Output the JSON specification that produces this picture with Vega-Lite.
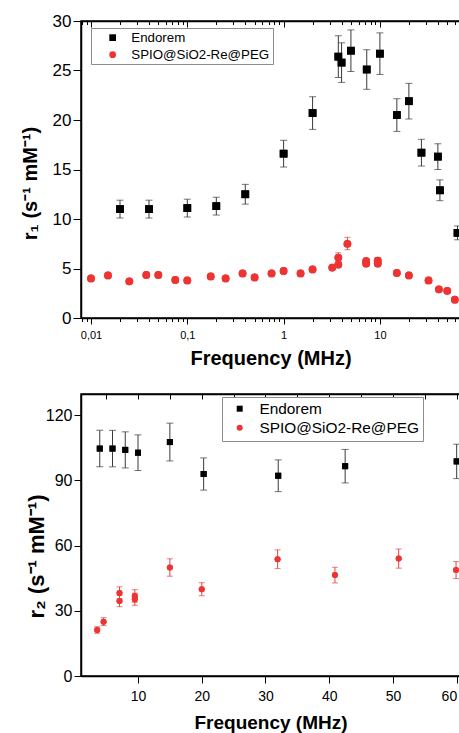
{
  "$schema": "https://vega.github.io/schema/vega-lite/v6.json",
  "padding": {"left": 19, "top": 11, "right": 0, "bottom": 0},
  "bounds": "flush",
  "spacing": 76,
  "resolve": {"scale": {"color": "independent", "shape": "independent"}, "legend": {"color": "independent", "shape": "independent"}},
  "config": {
    "font": "Liberation Sans",
    "view": {"stroke": "#000000", "strokeWidth": 1.5},
    "axis": {"domainColor": "#000000", "domainWidth": 1.5, "tickColor": "#000000", "tickWidth": 1, "labelColor": "#000000", "titleColor": "#000000", "grid": false, "labelFont": "Liberation Sans", "titleFont": "Liberation Sans", "titleFontWeight": "bold", "labelOverlap": false},
    "legend": {"labelFont": "Liberation Sans", "labelColor": "#000000", "strokeColor": "#8c8c8c", "fillColor": "#ffffff", "symbolStrokeWidth": 0, "direction": "vertical"}
  },
  "datasets": {
    "r1": [
      {"series": "Endorem", "f": 0.02, "r": 11.0, "lo": 10.1, "hi": 11.9},
      {"series": "Endorem", "f": 0.04, "r": 11.0, "lo": 10.1, "hi": 11.9},
      {"series": "Endorem", "f": 0.1, "r": 11.1, "lo": 10.2, "hi": 12.0},
      {"series": "Endorem", "f": 0.2, "r": 11.3, "lo": 10.4, "hi": 12.2},
      {"series": "Endorem", "f": 0.4, "r": 12.5, "lo": 11.5, "hi": 13.5},
      {"series": "Endorem", "f": 1, "r": 16.6, "lo": 15.25, "hi": 17.95},
      {"series": "Endorem", "f": 2, "r": 20.7, "lo": 19.05, "hi": 22.35},
      {"series": "Endorem", "f": 3.7, "r": 26.4, "lo": 24.3, "hi": 28.5},
      {"series": "Endorem", "f": 4.0, "r": 25.8, "lo": 23.8, "hi": 27.8},
      {"series": "Endorem", "f": 5.0, "r": 27.0, "lo": 24.9, "hi": 29.1},
      {"series": "Endorem", "f": 7.3, "r": 25.1, "lo": 23.1, "hi": 27.1},
      {"series": "Endorem", "f": 10, "r": 26.7, "lo": 24.6, "hi": 28.8},
      {"series": "Endorem", "f": 15, "r": 20.5, "lo": 18.85, "hi": 22.15},
      {"series": "Endorem", "f": 20, "r": 21.9, "lo": 20.1, "hi": 23.7},
      {"series": "Endorem", "f": 27, "r": 16.7, "lo": 15.35, "hi": 18.05},
      {"series": "Endorem", "f": 40, "r": 16.3, "lo": 15.0, "hi": 17.6},
      {"series": "Endorem", "f": 42, "r": 12.9, "lo": 11.85, "hi": 13.95},
      {"series": "Endorem", "f": 64, "r": 8.6, "lo": 7.9, "hi": 9.3},
      {"series": "SPIO@SiO2-Re@PEG", "f": 0.01, "r": 4.0, "lo": 3.8, "hi": 4.2},
      {"series": "SPIO@SiO2-Re@PEG", "f": 0.015, "r": 4.3, "lo": 4.1, "hi": 4.5},
      {"series": "SPIO@SiO2-Re@PEG", "f": 0.025, "r": 3.7, "lo": 3.5, "hi": 3.9},
      {"series": "SPIO@SiO2-Re@PEG", "f": 0.0375, "r": 4.35, "lo": 4.15, "hi": 4.55},
      {"series": "SPIO@SiO2-Re@PEG", "f": 0.05, "r": 4.35, "lo": 4.15, "hi": 4.55},
      {"series": "SPIO@SiO2-Re@PEG", "f": 0.075, "r": 3.85, "lo": 3.65, "hi": 4.05},
      {"series": "SPIO@SiO2-Re@PEG", "f": 0.1, "r": 3.8, "lo": 3.6, "hi": 4.0},
      {"series": "SPIO@SiO2-Re@PEG", "f": 0.175, "r": 4.2, "lo": 4.0, "hi": 4.4},
      {"series": "SPIO@SiO2-Re@PEG", "f": 0.25, "r": 4.0, "lo": 3.8, "hi": 4.2},
      {"series": "SPIO@SiO2-Re@PEG", "f": 0.375, "r": 4.5, "lo": 4.3, "hi": 4.7},
      {"series": "SPIO@SiO2-Re@PEG", "f": 0.5, "r": 4.1, "lo": 3.9, "hi": 4.3},
      {"series": "SPIO@SiO2-Re@PEG", "f": 0.75, "r": 4.5, "lo": 4.3, "hi": 4.7},
      {"series": "SPIO@SiO2-Re@PEG", "f": 1, "r": 4.75, "lo": 4.55, "hi": 4.95},
      {"series": "SPIO@SiO2-Re@PEG", "f": 1.5, "r": 4.5, "lo": 4.3, "hi": 4.7},
      {"series": "SPIO@SiO2-Re@PEG", "f": 2, "r": 4.9, "lo": 4.7, "hi": 5.1},
      {"series": "SPIO@SiO2-Re@PEG", "f": 3.2, "r": 5.1, "lo": 4.9, "hi": 5.3},
      {"series": "SPIO@SiO2-Re@PEG", "f": 3.7, "r": 5.4, "lo": 5.15, "hi": 5.65},
      {"series": "SPIO@SiO2-Re@PEG", "f": 3.7, "r": 6.1, "lo": 5.6, "hi": 6.6},
      {"series": "SPIO@SiO2-Re@PEG", "f": 4.6, "r": 7.5, "lo": 6.9, "hi": 8.15},
      {"series": "SPIO@SiO2-Re@PEG", "f": 7.2, "r": 5.75, "lo": 5.45, "hi": 6.05},
      {"series": "SPIO@SiO2-Re@PEG", "f": 7.2, "r": 5.5, "lo": 5.2, "hi": 5.8},
      {"series": "SPIO@SiO2-Re@PEG", "f": 9.5, "r": 5.8, "lo": 5.5, "hi": 6.1},
      {"series": "SPIO@SiO2-Re@PEG", "f": 9.5, "r": 5.5, "lo": 5.2, "hi": 5.8},
      {"series": "SPIO@SiO2-Re@PEG", "f": 15, "r": 4.55, "lo": 4.35, "hi": 4.75},
      {"series": "SPIO@SiO2-Re@PEG", "f": 20, "r": 4.3, "lo": 4.1, "hi": 4.5},
      {"series": "SPIO@SiO2-Re@PEG", "f": 32, "r": 3.8, "lo": 3.6, "hi": 4.0},
      {"series": "SPIO@SiO2-Re@PEG", "f": 41, "r": 2.9, "lo": 2.7, "hi": 3.1},
      {"series": "SPIO@SiO2-Re@PEG", "f": 50, "r": 2.75, "lo": 2.55, "hi": 2.95},
      {"series": "SPIO@SiO2-Re@PEG", "f": 60, "r": 1.85, "lo": 1.65, "hi": 2.05}
    ],
    "r2": [
      {"series": "Endorem", "f": 4, "r": 104.6, "lo": 96.2, "hi": 113.0},
      {"series": "Endorem", "f": 6, "r": 104.6, "lo": 96.2, "hi": 113.0},
      {"series": "Endorem", "f": 8, "r": 104.0, "lo": 95.7, "hi": 112.3},
      {"series": "Endorem", "f": 10, "r": 102.7, "lo": 94.5, "hi": 110.9},
      {"series": "Endorem", "f": 15, "r": 107.6, "lo": 98.9, "hi": 116.3},
      {"series": "Endorem", "f": 20.3, "r": 92.9, "lo": 85.5, "hi": 100.3},
      {"series": "Endorem", "f": 32, "r": 92.1, "lo": 84.8, "hi": 99.4},
      {"series": "Endorem", "f": 42.5, "r": 96.5, "lo": 88.8, "hi": 104.2},
      {"series": "Endorem", "f": 60, "r": 98.7, "lo": 90.8, "hi": 106.6},
      {"series": "SPIO@SiO2-Re@PEG", "f": 3.6, "r": 21.2, "lo": 19.7, "hi": 22.7},
      {"series": "SPIO@SiO2-Re@PEG", "f": 4.6, "r": 25.0, "lo": 23.2, "hi": 26.8},
      {"series": "SPIO@SiO2-Re@PEG", "f": 7.1, "r": 38.2, "lo": 35.4, "hi": 41.0},
      {"series": "SPIO@SiO2-Re@PEG", "f": 7.1, "r": 34.5, "lo": 31.9, "hi": 37.1},
      {"series": "SPIO@SiO2-Re@PEG", "f": 9.5, "r": 36.8, "lo": 33.9, "hi": 39.7},
      {"series": "SPIO@SiO2-Re@PEG", "f": 9.5, "r": 35.3, "lo": 32.5, "hi": 38.1},
      {"series": "SPIO@SiO2-Re@PEG", "f": 15, "r": 49.9, "lo": 45.9, "hi": 53.9},
      {"series": "SPIO@SiO2-Re@PEG", "f": 20, "r": 39.9, "lo": 36.9, "hi": 42.9},
      {"series": "SPIO@SiO2-Re@PEG", "f": 31.9, "r": 53.7, "lo": 49.4, "hi": 58.0},
      {"series": "SPIO@SiO2-Re@PEG", "f": 40.9, "r": 46.4, "lo": 42.8, "hi": 50.0},
      {"series": "SPIO@SiO2-Re@PEG", "f": 50.9, "r": 54.0, "lo": 49.6, "hi": 58.4},
      {"series": "SPIO@SiO2-Re@PEG", "f": 59.9, "r": 48.7, "lo": 44.8, "hi": 52.6}
    ]
  },
  "vconcat": [
    {
      "width": 379,
      "height": 297,
      "data": {"name": "r1"},
      "resolve": {"axis": {"x": "independent"}},
      "layer": [
        {
          "mark": {"type": "point", "filled": true, "opacity": 1, "size": 60},
          "encoding": {
            "x": {
              "field": "f", "type": "quantitative",
              "scale": {"type": "log", "domain": [0.00787, 67.9], "nice": false},
              "axis": {
                "orient": "bottom",
                "values": [0.008, 0.009, 0.01, 0.02, 0.03, 0.04, 0.05, 0.06, 0.07, 0.08, 0.09, 0.1, 0.2, 0.3, 0.4, 0.5, 0.6, 0.7, 0.8, 0.9, 1, 2, 3, 4, 5, 6, 7, 8, 9, 10, 20, 30, 40, 50, 60],
                "labelExpr": "datum.value === 0.01 ? '0,01' : datum.value === 0.1 ? '0,1' : datum.value === 1 ? '1' : datum.value === 10 ? '10' : ''",
                "tickSize": {"condition": {"test": "datum.value === 0.01 || datum.value === 0.1 || datum.value === 1 || datum.value === 10", "value": 6}, "value": 3.5},
                "labelOverlap": false,
                "labelFontSize": 11,
                "labelPadding": 5,
                "title": "Frequency (MHz)",
                "titleFontSize": 20,
                "titleBaseline": "middle",
                "titleY": 40
              }
            },
            "y": {
              "field": "r", "type": "quantitative",
              "title": "r₁ (s⁻¹ mM⁻¹)",
              "scale": {"domain": [0, 30], "nice": false},
              "axis": {
                "orient": "left",
                "values": [0, 2.5, 5, 7.5, 10, 12.5, 15, 17.5, 20, 22.5, 25, 27.5, 30],
                "labelExpr": "datum.value % 5 === 0 ? datum.label : ''",
                "tickSize": {"condition": {"test": "datum.value % 5 === 0", "value": 8}, "value": 5},
                "labelOverlap": false,
                "labelFontSize": 17,
                "labelPadding": 2,
                "title": "r₁ (s⁻¹ mM⁻¹)",
                "titleFontSize": 20,
                "titleBaseline": "middle",
                "titleX": -51,
                "titleY": 162
              }
            },
            "color": {
              "field": "series", "type": "nominal",
              "scale": {"domain": ["Endorem", "SPIO@SiO2-Re@PEG"], "range": ["#000000", "#ee3333"]},
              "legend": {"title": null, "orient": "none", "legendX": 10, "legendY": 7, "padding": 3, "symbolOffset": 12, "labelOffset": 12, "rowPadding": 3, "symbolSize": 45, "labelFontSize": 13.3}
            },
            "shape": {
              "field": "series", "type": "nominal",
              "scale": {"domain": ["Endorem", "SPIO@SiO2-Re@PEG"], "range": ["square", "circle"]},
              "legend": {"title": null, "orient": "none", "legendX": 10, "legendY": 7, "padding": 3, "symbolOffset": 12, "labelOffset": 12, "rowPadding": 3, "symbolSize": 45, "labelFontSize": 13.3}
            }
          }
        },
        {
          "transform": [{"filter": "datum.series === 'Endorem'"}],
          "mark": {"type": "errorbar", "ticks": true, "size": 7, "thickness": 1, "color": "#3a3a3a"},
          "encoding": {
            "x": {"field": "f", "type": "quantitative", "scale": {"type": "log", "domain": [0.00787, 67.9], "nice": false}, "axis": null},
            "y": {"field": "lo", "type": "quantitative", "title": "r₁ (s⁻¹ mM⁻¹)", "scale": {"domain": [0, 30], "nice": false}},
            "y2": {"field": "hi"}
          }
        },
        {
          "transform": [{"filter": "datum.series !== 'Endorem'"}],
          "mark": {"type": "errorbar", "ticks": true, "size": 6, "thickness": 1, "color": "#e04545"},
          "encoding": {
            "x": {"field": "f", "type": "quantitative", "scale": {"type": "log", "domain": [0.00787, 67.9], "nice": false}, "axis": null},
            "y": {"field": "lo", "type": "quantitative", "title": "r₁ (s⁻¹ mM⁻¹)", "scale": {"domain": [0, 30], "nice": false}},
            "y2": {"field": "hi"}
          }
        },
        {
          "mark": {"type": "point", "filled": true, "opacity": 1, "size": 60},
          "encoding": {
            "x": {"field": "f", "type": "quantitative", "scale": {"type": "log", "domain": [0.00787, 67.9], "nice": false}, "axis": null},
            "y": {"field": "r", "type": "quantitative", "title": "r₁ (s⁻¹ mM⁻¹)", "scale": {"domain": [0, 30], "nice": false}},
            "color": {"field": "series", "type": "nominal", "scale": {"domain": ["Endorem", "SPIO@SiO2-Re@PEG"], "range": ["#000000", "#ee3333"]}},
            "shape": {"field": "series", "type": "nominal", "scale": {"domain": ["Endorem", "SPIO@SiO2-Re@PEG"], "range": ["square", "circle"]}}
          }
        },
        {
          "mark": {"type": "point", "opacity": 0},
          "encoding": {
            "x": {
              "field": "f", "type": "quantitative",
              "scale": {"type": "log", "domain": [0.00787, 67.9], "nice": false},
              "axis": {
                "orient": "top",
                "values": [0.008, 0.009, 0.01, 0.02, 0.03, 0.04, 0.05, 0.06, 0.07, 0.08, 0.09, 0.1, 0.2, 0.3, 0.4, 0.5, 0.6, 0.7, 0.8, 0.9, 1, 2, 3, 4, 5, 6, 7, 8, 9, 10, 20, 30, 40, 50, 60],
                "labels": false,
                "title": null,
                "tickSize": {"condition": {"test": "datum.value === 0.01 || datum.value === 0.1 || datum.value === 1 || datum.value === 10", "value": -6}, "value": -3.5}
              }
            },
            "y": {"field": "r", "type": "quantitative", "title": "r₁ (s⁻¹ mM⁻¹)", "scale": {"domain": [0, 30], "nice": false}}
          }
        }
      ]
    },
    {
      "width": 379,
      "height": 282,
      "data": {"name": "r2"},
      "resolve": {"axis": {"x": "independent"}},
      "layer": [
        {
          "mark": {"type": "point", "filled": true, "opacity": 1, "size": 36},
          "encoding": {
            "x": {
              "field": "f", "type": "quantitative",
              "scale": {"domain": [1.057, 60.52], "nice": false, "zero": false},
              "axis": {
                "orient": "bottom",
                "values": [10, 20, 30, 40, 50, 60],
                "tickSize": 7,
                "labelOverlap": false,
                "labelFlush": 6,
                "labelFontSize": 14,
                "labelPadding": 6,
                "title": "Frequency (MHz)",
                "titleFontSize": 19,
                "titleBaseline": "middle",
                "titleY": 46
              }
            },
            "y": {
              "field": "r", "type": "quantitative",
              "title": "r₂ (s⁻¹ mM⁻¹)",
              "scale": {"domain": [0, 129.7], "nice": false},
              "axis": {
                "orient": "left",
                "values": [0, 15, 30, 45, 60, 75, 90, 105, 120],
                "tickSize": 7,
                "labelOverlap": false,
                "labelFontSize": 16,
                "labelPadding": 2,
                "title": "r₂ (s⁻¹ mM⁻¹)",
                "titleFontSize": 22,
                "titleBaseline": "middle",
                "titleX": -45,
                "titleY": 162
              }
            },
            "color": {
              "field": "series", "type": "nominal",
              "scale": {"domain": ["Endorem", "SPIO@SiO2-Re@PEG"], "range": ["#000000", "#ee3333"]},
              "legend": {"title": null, "orient": "none", "legendX": 141, "legendY": 3, "padding": 4, "symbolOffset": 6, "labelOffset": 12, "rowPadding": 2, "symbolSize": 36, "labelFontSize": 15.4}
            },
            "shape": {
              "field": "series", "type": "nominal",
              "scale": {"domain": ["Endorem", "SPIO@SiO2-Re@PEG"], "range": ["square", "circle"]},
              "legend": {"title": null, "orient": "none", "legendX": 141, "legendY": 3, "padding": 4, "symbolOffset": 6, "labelOffset": 12, "rowPadding": 2, "symbolSize": 36, "labelFontSize": 15.4}
            }
          }
        },
        {
          "transform": [{"filter": "datum.series === 'Endorem'"}],
          "mark": {"type": "errorbar", "ticks": true, "size": 7, "thickness": 1, "color": "#3a3a3a"},
          "encoding": {
            "x": {"field": "f", "type": "quantitative", "scale": {"domain": [1.057, 60.52], "nice": false, "zero": false}, "axis": null},
            "y": {"field": "lo", "type": "quantitative", "title": "r₂ (s⁻¹ mM⁻¹)", "scale": {"domain": [0, 129.7], "nice": false}},
            "y2": {"field": "hi"}
          }
        },
        {
          "transform": [{"filter": "datum.series !== 'Endorem'"}],
          "mark": {"type": "errorbar", "ticks": true, "size": 6, "thickness": 1, "color": "#e04545"},
          "encoding": {
            "x": {"field": "f", "type": "quantitative", "scale": {"domain": [1.057, 60.52], "nice": false, "zero": false}, "axis": null},
            "y": {"field": "lo", "type": "quantitative", "title": "r₂ (s⁻¹ mM⁻¹)", "scale": {"domain": [0, 129.7], "nice": false}},
            "y2": {"field": "hi"}
          }
        },
        {
          "mark": {"type": "point", "filled": true, "opacity": 1, "size": 36},
          "encoding": {
            "x": {"field": "f", "type": "quantitative", "scale": {"domain": [1.057, 60.52], "nice": false, "zero": false}, "axis": null},
            "y": {"field": "r", "type": "quantitative", "title": "r₂ (s⁻¹ mM⁻¹)", "scale": {"domain": [0, 129.7], "nice": false}},
            "color": {"field": "series", "type": "nominal", "scale": {"domain": ["Endorem", "SPIO@SiO2-Re@PEG"], "range": ["#000000", "#ee3333"]}},
            "shape": {"field": "series", "type": "nominal", "scale": {"domain": ["Endorem", "SPIO@SiO2-Re@PEG"], "range": ["square", "circle"]}}
          }
        },
        {
          "mark": {"type": "point", "opacity": 0},
          "encoding": {
            "x": {
              "field": "f", "type": "quantitative",
              "scale": {"domain": [1.057, 60.52], "nice": false, "zero": false},
              "axis": {
                "orient": "top",
                "values": [5, 10, 15, 20, 25, 30, 35, 40, 45, 50, 55, 60],
                "labels": false,
                "title": null,
                "tickSize": -5
              }
            },
            "y": {"field": "r", "type": "quantitative", "title": "r₂ (s⁻¹ mM⁻¹)", "scale": {"domain": [0, 129.7], "nice": false}}
          }
        }
      ]
    }
  ]
}
